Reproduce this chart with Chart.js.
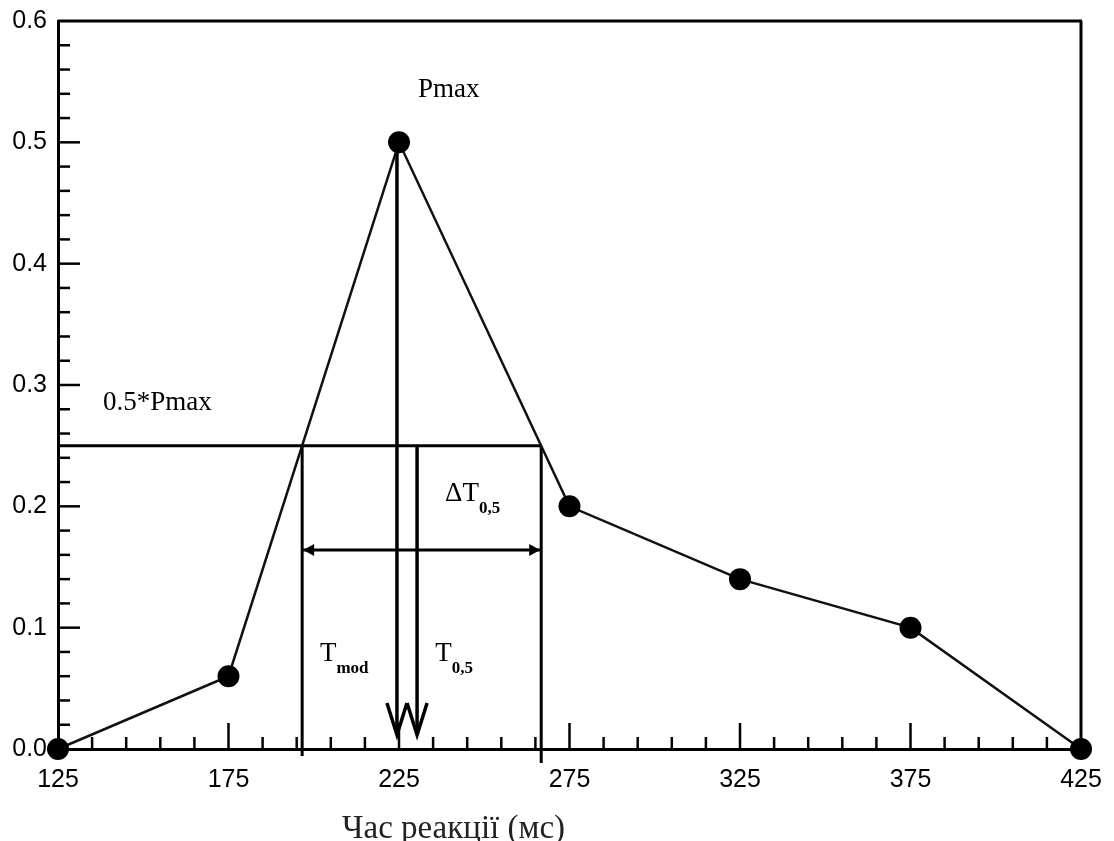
<!DOCTYPE html>
<html>
<head>
<meta charset="utf-8">
<script src="https://cdn.jsdelivr.net/npm/chart.js@4/dist/chart.umd.min.js"></script>
<style>
  html, body { margin: 0; padding: 0; background: #fff; }
  canvas { display: block; }
</style>
</head>
<body>
<canvas id="reactionChart" width="1114" height="841"></canvas>
<script>
// data
const reactionTimes = [125, 175, 225, 275, 325, 375, 425];
const probabilities = [0, 0.06, 0.5, 0.2, 0.14, 0.1, 0];
const xTickValues = [125, 175, 225, 275, 325, 375, 425];
const yTickValues = [0, 0.1, 0.2, 0.3, 0.4, 0.5, 0.6];
const xAxisTitle = "Час реакції (мс)";

// annotation values (ms / probability)
const peakValue = 0.5;
const halfLevel = 0.25;
const halfStart = 196.6;
const halfEnd = 266.7;
const tMod = 224.4;
const tHalf = 230.3;
const spanArrowLevel = 0.164;

const serif = "'Liberation Serif', 'DejaVu Serif', serif";
const tickFont = "'Liberation Sans', Arial, sans-serif";

// keep the plot box fixed, labels may hang over the edges
const fixBox = (size) => (s) => {
  if (s.isHorizontal()) s.height = size;
  else s.width = size;
  s.paddingTop = s.paddingBottom = s.paddingLeft = s.paddingRight = 0;
};

// draws frame, inward ticks, guide lines, arrows and labels
const overlay = {
  id: "overlay",
  beforeDatasetsDraw(chart) {
    const { ctx, chartArea: a, scales: { x, y } } = chart;
    const line = (x1, y1, x2, y2) => {
      ctx.beginPath();
      ctx.moveTo(x1, y1);
      ctx.lineTo(x2, y2);
      ctx.stroke();
    };
    ctx.save();
    ctx.strokeStyle = "#000";
    ctx.fillStyle = "#000";

    // top and right frame
    ctx.lineWidth = 3;
    line(a.left, a.top, a.right + 1, a.top);
    line(a.right, a.top, a.right, a.bottom);

    // inward ticks, minor every 10 ms and 0.02
    ctx.lineWidth = 2.5;
    for (let i = 1; i < 30; i++) {
      const px = x.getPixelForValue(x.min + i * 10);
      line(px, a.bottom, px, a.bottom - (i % 5 === 0 ? 26 : 12));
    }
    for (let i = 1; i < 30; i++) {
      const py = y.getPixelForValue(i * 0.02);
      line(a.left, py, a.left + (i % 5 === 0 ? 22 : 12), py);
    }

    // 0.5*Pmax level and its bounds
    ctx.lineWidth = 3;
    const yHalf = y.getPixelForValue(halfLevel);
    const xs = x.getPixelForValue(halfStart);
    const xe = x.getPixelForValue(halfEnd);
    line(a.left, yHalf, xe, yHalf);
    line(xs, yHalf, xs, a.bottom + 7);
    line(xe, yHalf, xe, a.bottom + 14);

    // double arrow for delta T
    const ySpan = y.getPixelForValue(spanArrowLevel);
    line(xs, ySpan, xe, ySpan);
    [[xs, 1], [xe, -1]].forEach(([px, d]) => {
      ctx.beginPath();
      ctx.moveTo(px + 1 * d, ySpan);
      ctx.lineTo(px + 12 * d, ySpan - 6);
      ctx.lineTo(px + 12 * d, ySpan + 6);
      ctx.closePath();
      ctx.fill();
    });

    // down arrows for Tmod and T0,5
    const tip = a.bottom - 14;
    ctx.lineWidth = 3.5;
    [[tMod, peakValue], [tHalf, halfLevel]].forEach(([t, from]) => {
      const px = x.getPixelForValue(t);
      line(px, y.getPixelForValue(from), px, tip);
      ctx.beginPath();
      ctx.moveTo(px - 10, tip - 32);
      ctx.lineTo(px, tip);
      ctx.lineTo(px + 10, tip - 32);
      ctx.stroke();
    });

    // labels
    ctx.textBaseline = "middle";
    ctx.textAlign = "left";
    const label = (text, t, v, sub) => {
      const px = x.getPixelForValue(t);
      const py = y.getPixelForValue(v);
      ctx.font = "27px " + serif;
      ctx.fillText(text, px, py);
      if (sub) {
        const w = ctx.measureText(text).width;
        ctx.font = "bold 17px " + serif;
        ctx.fillText(sub, px + w, py + 14);
      }
    };
    label("Pmax", 230.6, 0.543);
    label("0.5*Pmax", 138.2, 0.285);
    label("\u0394T", 238.5, 0.21, "0,5");
    label("T", 201.8, 0.078, "mod");
    label("T", 235.6, 0.078, "0,5");

    // x axis title, sits left of the centre in the original
    ctx.fillStyle = "#222";
    ctx.textAlign = "center";
    ctx.textBaseline = "alphabetic";
    ctx.font = "33px " + serif;
    ctx.fillText(xAxisTitle, x.getPixelForValue(241), chart.height - 3);

    ctx.restore();
  }
};

const ctx = document.getElementById("reactionChart").getContext("2d");
const chart = new Chart(ctx, {
  type: "line",
  data: {
    datasets: [
      {
        data: reactionTimes.map((t, i) => ({ x: t, y: probabilities[i] })),
        borderColor: "#111",
        borderWidth: 2.5,
        pointRadius: 11,
        pointBackgroundColor: "#000",
        pointBorderColor: "#000",
        pointBorderWidth: 0,
        tension: 0,
        clip: false,
      },
    ],
  },
  options: {
    responsive: false,
    animation: false,
    layout: { padding: { top: 21, right: 33, left: 0, bottom: 0 } },
    plugins: {
      legend: { display: false },
      tooltip: { enabled: false },
    },
    scales: {
      x: {
        type: "linear",
        min: 125,
        max: 425,
        afterBuildTicks: (s) => { s.ticks = xTickValues.map((v) => ({ value: v })); },
        afterFit: fixBox(92),
        grid: { display: false, drawTicks: false },
        border: { color: "#000", width: 3 },
        ticks: {
          padding: 16,
          color: "#000",
          maxRotation: 0,
          font: { family: tickFont, size: 25 },
        },
      },
      y: {
        type: "linear",
        min: 0,
        max: 0.6,
        afterBuildTicks: (s) => { s.ticks = yTickValues.map((v) => ({ value: v })); },
        afterFit: fixBox(58),
        grid: { display: false, drawTicks: false },
        border: { color: "#000", width: 3 },
        ticks: {
          padding: 11,
          color: "#000",
          callback: (v) => v.toFixed(1),
          font: { family: tickFont, size: 25 },
        },
      },
    },
  },
  plugins: [overlay],
});
</script>
</body>
</html>
